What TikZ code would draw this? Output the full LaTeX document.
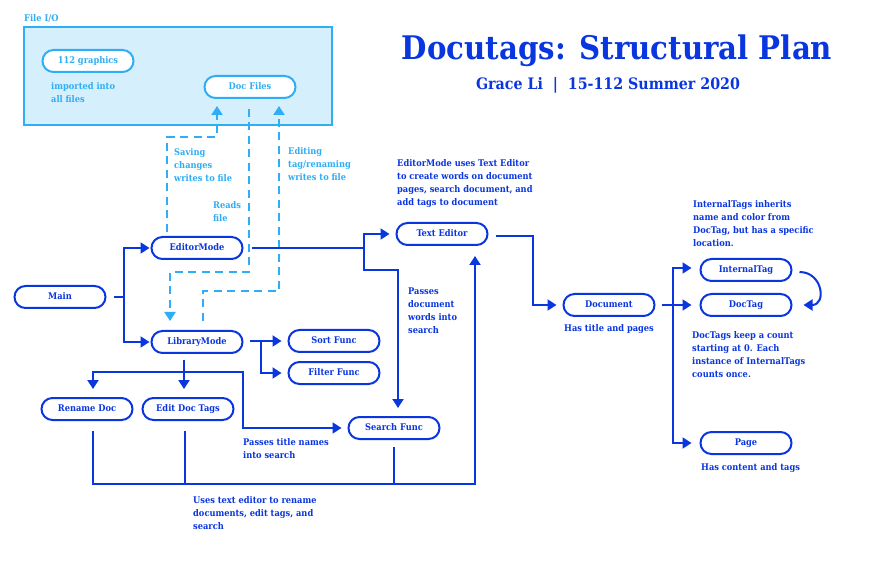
\documentclass[tikz,border=0pt]{standalone}
\usepackage{fontspec}
\setmainfont{DejaVu Serif Condensed}
\usetikzlibrary{arrows.meta}
\definecolor{dblue}{HTML}{0A36E0}
\definecolor{lblue}{HTML}{30AEF5}
\definecolor{boxfill}{HTML}{D6EFFC}
\begin{document}
\begin{tikzpicture}[x=1pt,y=-1pt,
  font=\bfseries\fontsize{9.2}{13}\selectfont,
  box/.style={draw=dblue, line width=2pt, rounded corners=11pt, minimum width=91pt,
    minimum height=22pt, inner sep=0pt, text height=6.8pt, text depth=1.8pt, text=dblue, fill=white},
  iobox/.style={box, draw=lblue, text=lblue},
  conn/.style={draw=dblue, line width=2pt},
  arr/.style={conn, -{Triangle[length=9pt,width=11pt]}},
  dconn/.style={draw=lblue, line width=2.2pt, dash pattern=on 8pt off 5.5pt},
  darr/.style={dconn, -{Triangle[length=9pt,width=11pt]}},
  note/.style={text=dblue, align=left, anchor=north west, inner sep=0pt},
  lnote/.style={note, text=lblue}]
\useasboundingbox (0,0) rectangle (879,564);
\fill[white] (0,0) rectangle (879,564);

% File I/O container
\draw[draw=lblue, fill=boxfill, line width=1.2pt] (24,27) rectangle (332,125);
\node[lnote] (fiolabel) at (24,14) {File I/O};

% title
\node[text=dblue, anchor=base, font=\bfseries\fontsize{32.5}{36}\selectfont] (title) at (617,60) {Docutags: Structural Plan};
\node[text=dblue, anchor=base, font=\bfseries\fontsize{15.8}{18}\selectfont] (subtitle) at (608,90) {Grace Li ~|~ 15-112 Summer 2020};

% nodes
\node[iobox] (graphics) at (88,61) {112 graphics};
\node[iobox] (docfiles) at (250,87) {Doc Files};
\node[box] (main) at (60,297) {Main};
\node[box] (editor) at (197,248) {EditorMode};
\node[box] (library) at (197,342) {LibraryMode};
\node[box] (sort) at (334,341) {Sort Func};
\node[box] (filter) at (334,373) {Filter Func};
\node[box] (rename) at (87,409) {Rename Doc};
\node[box] (edittags) at (188,409) {Edit Doc Tags};
\node[box] (search) at (394,428) {Search Func};
\node[box] (texted) at (442,234) {Text Editor};
\node[box] (document) at (609,305) {Document};
\node[box] (internal) at (746,270) {InternalTag};
\node[box] (doctag) at (746,305) {DocTag};
\node[box] (page) at (746,443) {Page};

% notes
\node[lnote] (n1) at (51,82) {imported into\\all files};
\node[lnote] (n2) at (174,148) {Saving\\changes\\writes to file};
\node[lnote] (n3) at (213,201) {Reads\\file};
\node[lnote] (n4) at (288,147) {Editing\\tag/renaming\\writes to file};
\node[note] (n5) at (397,159) {EditorMode uses Text Editor\\to create words on document\\pages, search document, and\\add tags to document};
\node[note] (n6) at (408,288) {Passes\\document\\words into\\search};
\node[note] (n7) at (243,438) {Passes title names\\into search};
\node[note] (n8) at (193,496) {Uses text editor to rename\\documents, edit tags, and\\search};
\node[note] (n9) at (564,324) {Has title and pages};
\node[note] (n10) at (693,200) {InternalTags inherits\\name and color from\\DocTag, but has a specific\\location.};
\node[note] (n11) at (692,331) {DocTags keep a count\\starting at 0. Each\\instance of InternalTags\\counts once.};
\node[note] (n12) at (701,463) {Has content and tags};

% dashed file connectors
\draw[darr] ([xshift=-30pt,yshift=4pt]editor.north) -- (167,137) -| ([xshift=-33pt,yshift=-7pt]docfiles.south);
\draw[darr] ([xshift=-1pt,yshift=-10pt]docfiles.south) -- (249,272) -| ([xshift=-27pt,yshift=9pt]library.north);
\draw[darr] ([xshift=6pt,yshift=9pt]library.north) -- (203,291) -| ([xshift=29pt,yshift=-7pt]docfiles.south);

% Main
\coordinate (j1) at (124,297);
\draw[conn] ([xshift=7pt]main.east) -- (j1);
\draw[arr] (j1) |- ([xshift=-1pt]editor.west);
\draw[arr] (j1) |- ([xshift=-1pt]library.west);

% EditorMode
\coordinate (j2) at (364,248);
\draw[conn] ([xshift=8pt]editor.east) -- (j2);
\draw[arr] (j2) |- ([xshift=-6pt]texted.west);
\draw[arr] (j2) -- (364,270) -| ([xshift=4pt,yshift=8pt]search.north);

% Text Editor -> Document
\draw[arr] ([xshift=7pt,yshift=-2pt]texted.east) -| (533,305) -- ([xshift=-6pt]document.west);

% LibraryMode -> Sort / Filter
\coordinate (j3) at (261,341);
\draw[conn] ([xshift=6pt,yshift=1pt]library.east) -- (j3);
\draw[arr] (j3) -- ([xshift=-6pt]sort.west);
\draw[arr] (j3) |- ([xshift=-6pt]filter.west);

% LibraryMode -> Rename / Edit tags / Search
\coordinate (j4) at (184,372);
\draw[arr] ([xshift=-13pt,yshift=-6pt]library.south) -- ([xshift=-4pt,yshift=8pt]edittags.north);
\draw[arr] (j4) -| ([xshift=6pt,yshift=8pt]rename.north);
\draw[arr] (j4) -- (243,372) |- ([xshift=-6pt]search.west);

% bottom loop to Text Editor
\draw[arr] ([xshift=6pt,yshift=-10pt]rename.south) |- (475,484) -- ([xshift=33pt,yshift=-10pt]texted.south);
\draw[conn] ([xshift=-3pt,yshift=-10pt]edittags.south) -- (185,484);
\draw[conn] ([yshift=-7pt]search.south) -- (394,484);

% Document -> tags / page
\coordinate (j5) at (673,305);
\draw[arr] ([xshift=6pt]document.east) -- ([xshift=-8pt]doctag.west);
\draw[arr] (j5) |- ([xshift=-8pt,yshift=2pt]internal.west);
\draw[arr] (j5) |- ([xshift=-8pt]page.west);
\draw[arr] ([xshift=7pt,yshift=-2pt]internal.east) to[out=0,in=0,looseness=1.8] ([xshift=11pt]doctag.east);
\end{tikzpicture}
\end{document}
